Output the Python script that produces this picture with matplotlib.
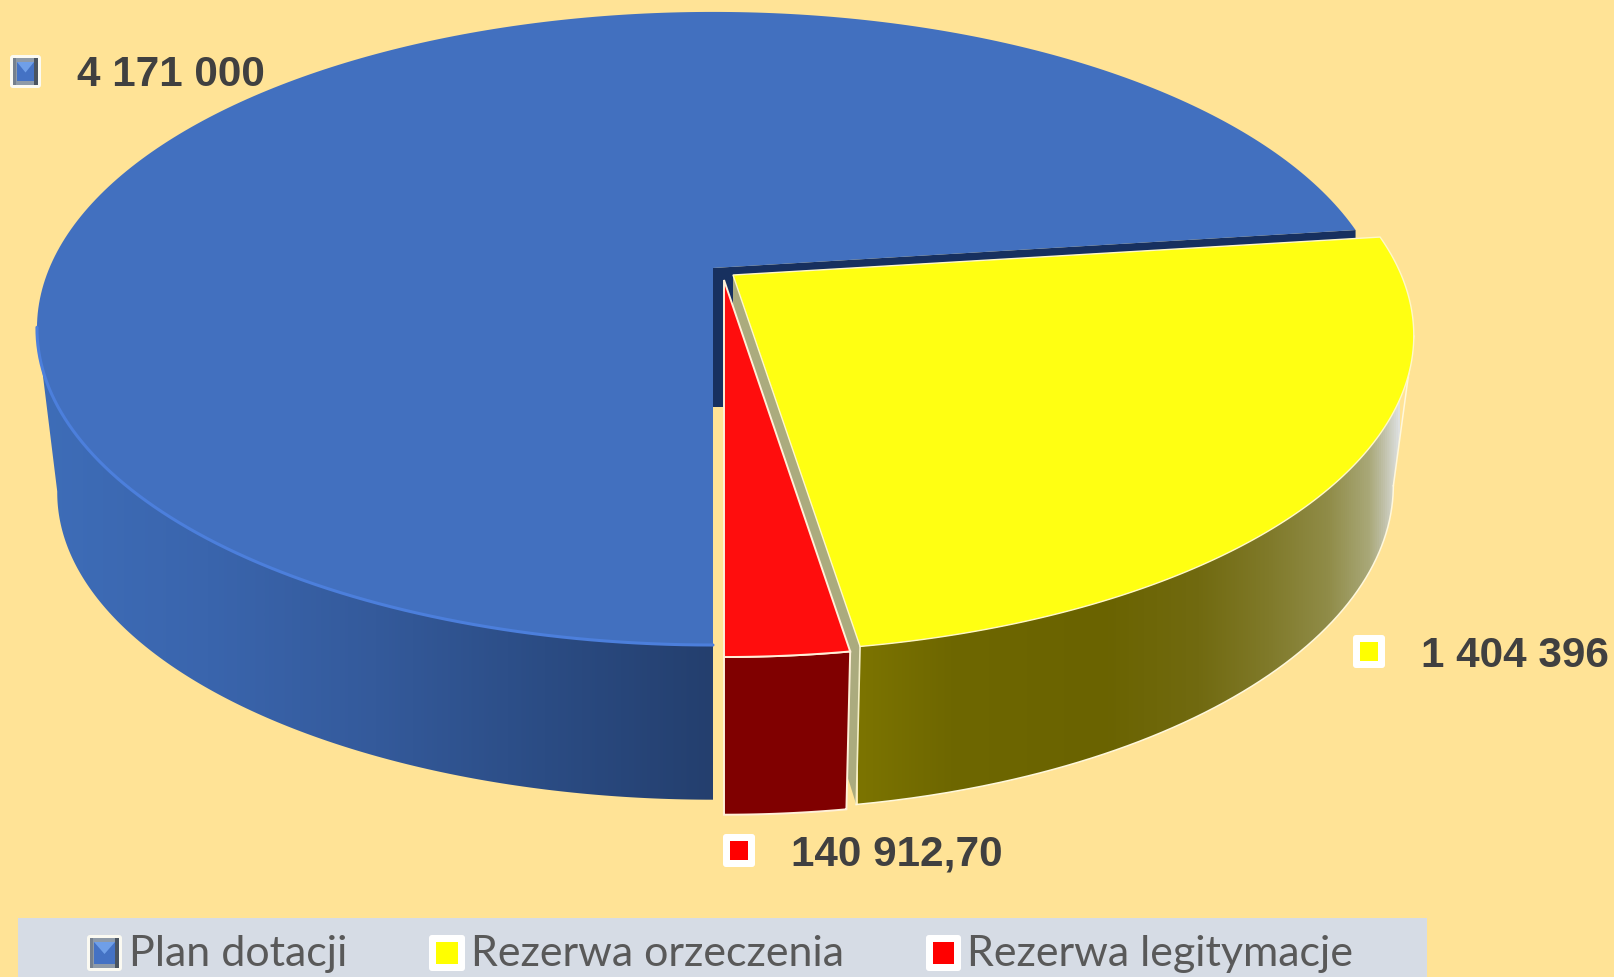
import matplotlib
matplotlib.use('Agg')
import matplotlib.pyplot as plt
from matplotlib.colors import LinearSegmentedColormap
from matplotlib.patches import FancyBboxPatch, Polygon, Rectangle
import numpy as np

names = ['Plan dotacji', 'Rezerwa orzeczenia', 'Rezerwa legitymacje']
values = [4171000, 1404396, 140912.70]
value_labels = ['4 171 000', '1 404 396', '140 912,70']

W, H = 1614, 977
BG = '#FFE396'
TXT = '#404040'

# perspektywa walca
A, B, K = 663.6, 305.0, 0.191
BOTTOM_SCALE, BOTTOM_DROP = 0.97, 166
BLUE_APEX = (713, 268)
YELLOW_APEX = (733, 275)
RED_APEX = (724, 280)

total = sum(values)
sweep = [v / total * 360 for v in values]
# czerwony konczy sie na dole (180 st.), kolejnosc zgodnie z zegarem: zolty, czerwony, niebieski
blue_start = 180
blue_end = blue_start + sweep[0]
yellow_start = blue_end - 360
yellow_end = yellow_start + sweep[1]
red_start = yellow_end
red_end = red_start + sweep[2]


def rim(t0, t1, apex, bottom=False, xs=1.0, drop=BOTTOM_DROP, ys=BOTTOM_SCALE):
    t = np.radians(np.linspace(t0, t1, 300))
    w = 1 + K * np.cos(t)
    x = xs * A * np.sin(t) / w
    y = -B * np.cos(t) / w
    if bottom:
        return np.column_stack([apex[0] + BOTTOM_SCALE * x, apex[1] + drop + ys * y])
    return np.column_stack([apex[0] + x, apex[1] + y])


def gradient_patch(ax, pts, stops, x0, x1, zorder):
    poly = Polygon(pts, closed=True, fc='none', ec='none', zorder=zorder)
    ax.add_patch(poly)
    cmap = LinearSegmentedColormap.from_list('g', stops)
    im = ax.imshow(np.linspace(0, 1, 512).reshape(1, -1), cmap=cmap, aspect='auto',
                   extent=(x0, x1, H, 0), zorder=zorder)
    im.set_clip_path(poly)


def key(ax, x, y, w, h, color, bevel=False):
    ax.add_patch(FancyBboxPatch((x + 2, y + 2), w - 4, h - 4, boxstyle='round,pad=2,rounding_size=3',
                                fc='#FBFAF2' if bevel else 'white', ec='none', zorder=10))
    if bevel:
        l, r, t, b = x + 3, x + w - 3, y + 3, y + h - 3
        cx, cy = x + w / 2, y + h / 2
        ax.add_patch(Rectangle((l, t), r - l, b - t, fc='#8E9AA8', ec='none', zorder=11))
        ax.add_patch(Rectangle((l + 4, t + 4), r - l - 8, b - t - 8, fc=color, ec='none', zorder=12))
        ax.add_patch(Polygon([(l + 4, t + 4), (r - 4, t + 4), (cx, cy + 1)],
                             closed=True, fc='#6F9FE8', ec='none', zorder=13))
        ax.add_patch(Polygon([(r - 4, t), (r, t), (r, b), (r - 4, b)],
                             closed=True, fc='#4A5460', ec='none', zorder=13))
        ax.add_patch(Polygon([(l, t), (l + 3, t), (l + 3, b), (l, b)],
                             closed=True, fc='#75808E', ec='none', zorder=13))
    else:
        ax.add_patch(Rectangle((x + 7, y + 7), w - 14, h - 14, fc=color, ec='none', zorder=11))


fig = plt.figure(figsize=(W / 100, H / 100), dpi=100, facecolor=BG)
ax = fig.add_axes([0, 0, 1, 1])
ax.set_axis_off()

# ciemna sciana za wycietym kawalkiem
corner = rim(blue_end, blue_end, BLUE_APEX)[0]
ax.add_patch(Polygon([BLUE_APEX, corner, (corner[0], corner[1] + 139),
                      (BLUE_APEX[0] + 11, BLUE_APEX[1] + 139), (BLUE_APEX[0], BLUE_APEX[1] + 139)],
                     closed=True, fc='#17305F', ec='none', zorder=1))

# niebieski
top = rim(180, 340, BLUE_APEX)
bot = rim(180, 340, BLUE_APEX, True)
i = np.argmin(top[:, 0])
j = np.argmin(bot[:, 0])
gradient_patch(ax, np.vstack([top[:i + 1], bot[:j + 1][::-1]]),
               ['#3E6DB8', '#3A65AD', '#345A9B', '#2B4C84', '#243F6E'], 40, 713, 2)
blue_top = rim(blue_start, blue_end, BLUE_APEX)
ax.add_patch(Polygon(np.vstack([BLUE_APEX, blue_top]), closed=True, fc='#4270BF', ec='none', zorder=3))
ax.plot(top[:i + 1, 0], top[:i + 1, 1], color='#4C7FDC', lw=2.2, zorder=4, solid_capstyle='round')

# zolty - sciana promieniowa i bok
Y_XS, Y_DROP, Y_YS = 1.007, 148, 1.027
y_front = rim(yellow_end, yellow_end, YELLOW_APEX, xs=Y_XS)[0]
y_front_b = rim(yellow_end, yellow_end, YELLOW_APEX, True, xs=Y_XS, drop=Y_DROP, ys=Y_YS)[0]
ax.add_patch(Polygon([YELLOW_APEX, y_front, y_front_b, (YELLOW_APEX[0], YELLOW_APEX[1] + 139)],
                     closed=True, fc='#ABAB7E', ec='none', zorder=5))
top = rim(yellow_end, 90, YELLOW_APEX, xs=Y_XS)
bot = rim(yellow_end, 90, YELLOW_APEX, True, xs=Y_XS, drop=Y_DROP, ys=Y_YS)
i = np.argmax(top[:, 0])
j = np.argmax(bot[:, 0])
gradient_patch(ax, np.vstack([top[:i + 1], bot[:j + 1][::-1]]),
               [(0, '#7C7400'), (0.17, '#6E6700'), (0.45, '#6A6300'), (0.63, '#716A10'), (0.76, '#807A2A'),
                (0.87, '#908C48'), (0.945, '#A9A878'), (0.972, '#C0C0A8'), (1, '#DDE0E0')],
               858, 1400, 6)
ax.plot([y_front[0], y_front_b[0]], [y_front[1], y_front_b[1]], color='#F4EFC8', lw=1.2, zorder=7)
ax.plot(bot[:j + 1, 0], bot[:j + 1, 1], color='#FFF8DC', lw=1.1, zorder=7)
ax.plot([bot[j, 0], top[i, 0]], [bot[j, 1], top[i, 1]], color='#FFF8DC', lw=1.1, zorder=7)
yellow_top = rim(yellow_start, yellow_end, YELLOW_APEX, xs=Y_XS)
ax.add_patch(Polygon(np.vstack([YELLOW_APEX, yellow_top]), closed=True, fc='#FFFF12',
                     ec='#FFF8C8', lw=1.0, zorder=8))

# czerwony
top = rim(red_start, red_end, RED_APEX)
bot = rim(red_start, red_end, RED_APEX, True, drop=BOTTOM_DROP + 3)
ax.add_patch(Polygon(np.vstack([top, bot[::-1]]), closed=True, fc='#800000', ec='#FFF0D8', lw=1.4, zorder=8.5))
ax.add_patch(Polygon(np.vstack([RED_APEX, top]), closed=True, fc='#FF0D0D', ec='#FFF0D8', lw=1.4, zorder=9))

# etykiety
LABEL_SIZE = 30.4
key(ax, 10, 55, 31, 33, '#4472C4', bevel=True)
ax.text(77, 75, value_labels[0], fontsize=LABEL_SIZE, fontweight='bold', family='Liberation Sans', color=TXT,
        va='center', ha='left', zorder=15)
key(ax, 1353, 635, 32, 33, '#FFFF00')
ax.text(1421, 656, value_labels[1], fontsize=LABEL_SIZE, fontweight='bold', family='Liberation Sans', color=TXT,
        va='center', ha='left', zorder=15)
key(ax, 723, 834, 32, 33, '#FF0000')
ax.text(791, 854, value_labels[2], fontsize=LABEL_SIZE, fontweight='bold', family='Liberation Sans', color=TXT,
        va='center', ha='left', zorder=15)

# legenda
ax.add_patch(Rectangle((18, 918), 1409, 59, fc='#D6DCE5', ec='none', zorder=9))
key(ax, 87, 935, 35, 36, '#4472C4', bevel=True)
key(ax, 429, 935, 36, 36, '#FFFF00')
key(ax, 926, 935, 35, 36, '#FF0000')
for name, x in zip(names, [129, 471, 967]):
    ax.text(x, 954, name, fontsize=31, family='Lato', color='#595959', va='center', ha='left', zorder=15)

ax.set_xlim(0, W)
ax.set_ylim(H, 0)
fig.savefig('out.png', dpi=100, facecolor=BG)
